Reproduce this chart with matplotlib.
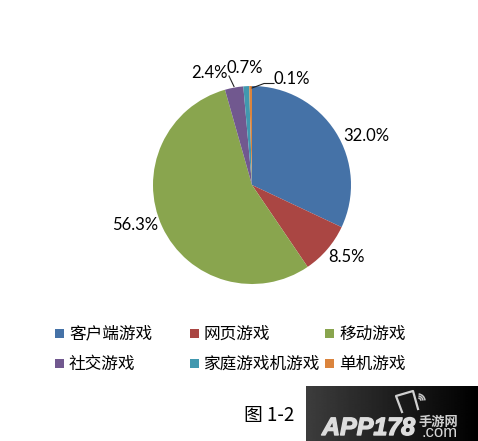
import matplotlib
matplotlib.use('Agg')
import matplotlib.pyplot as plt
import matplotlib.patheffects as pe
from matplotlib.patches import Rectangle, Arc
import numpy as np

plt.rcParams['font.family'] = ['Noto Sans CJK SC', 'DejaVu Sans']

categories = ['客户端游戏', '网页游戏', '移动游戏', '社交游戏', '家庭游戏机游戏', '单机游戏']
#slice sizes, the printed labels differ a little for the small ones
values = [32.0, 8.5, 55.1, 3.0, 0.95, 0.45]
colors = ['#4572a7', '#aa4643', '#89a54e', '#71588f', '#4198af', '#db843d']
value_labels = ['32.0%', '8.5%', '56.3%', '2.4%', '0.7%', '0.1%']

W, H = 478, 441
fig = plt.figure(figsize=(W / 100, H / 100), dpi=100)
ax = fig.add_axes([0, 0, 1, 1]) #axes in pixels, y flipped back with H-y

cx, cy, r = 252, H - 185, 99
ax.pie(values, colors=colors, startangle=90, counterclock=False, center=(cx, cy), radius=r,
       frame=True, wedgeprops={'linewidth': 0})

#value labels
label_xy = [(366, 136), (347, 257), (135, 225), (209, 73), (245, 68), (292, 79)]
for s, (x, y) in zip(value_labels, label_xy):
  ax.text(x, H - y, s, fontsize=12, family='Lato', ha='center', va='center', color='black')

#leader lines
ax.plot([229, 234], [H - 76, H - 86.5], color='#222222', lw=0.8)
ax.plot([252, 264, 274], [H - 88, H - 83.5, H - 83.5], color='#222222', lw=0.8)

#legend
leg_x = [55, 190, 325]
leg_y = [333, 363]
for i, (name, col) in enumerate(zip(categories, colors)):
  x, y = leg_x[i % 3], leg_y[i // 3]
  ax.add_patch(Rectangle((x, H - y - 5), 9, 9, fc=col, ec='none'))
  ax.text(x + 14, H - y - 1, name, fontsize=12, ha='left', va='center', color='black')

ax.text(269, H - 415, '图 1-2', fontsize=13.5, ha='center', va='center', color='black')

#watermark
grad = np.linspace(0.24, 0.0, 172).reshape(1, -1)
ax.imshow(grad, cmap='gray', vmin=0, vmax=1, extent=(306, 478, 0, 55), aspect='auto', zorder=3)
ax.text(322, H - 435, 'APP178', fontsize=18, fontweight='bold', style='italic',
        family='Liberation Sans', color='#dddddd', ha='left', va='baseline', zorder=4,
        path_effects=[pe.withStroke(linewidth=1.0, foreground='#dddddd')])
ax.text(419, H - 426, '手游网', fontsize=9.5, fontweight='bold', color='#d0d0d0', ha='left', va='baseline', zorder=4)
ax.text(422, H - 437, '.com', fontsize=12, family='Liberation Sans', color='#d8d8d8', ha='left', va='baseline', zorder=4)
ax.plot([402, 396, 413, 418], [H - 412, H - 396, H - 391, H - 409], color='#d0d0d0', lw=1.6, zorder=4)
for d in [6, 10, 14]:
  ax.add_patch(Arc((418, H - 401), d, d, theta1=5, theta2=85, ec='#c8c8c8', lw=1.1, zorder=4))

ax.set_xlim(0, W)
ax.set_ylim(0, H)
ax.set_aspect('equal')
ax.axis('off')

fig.savefig('out.png', dpi=100, facecolor='white')
